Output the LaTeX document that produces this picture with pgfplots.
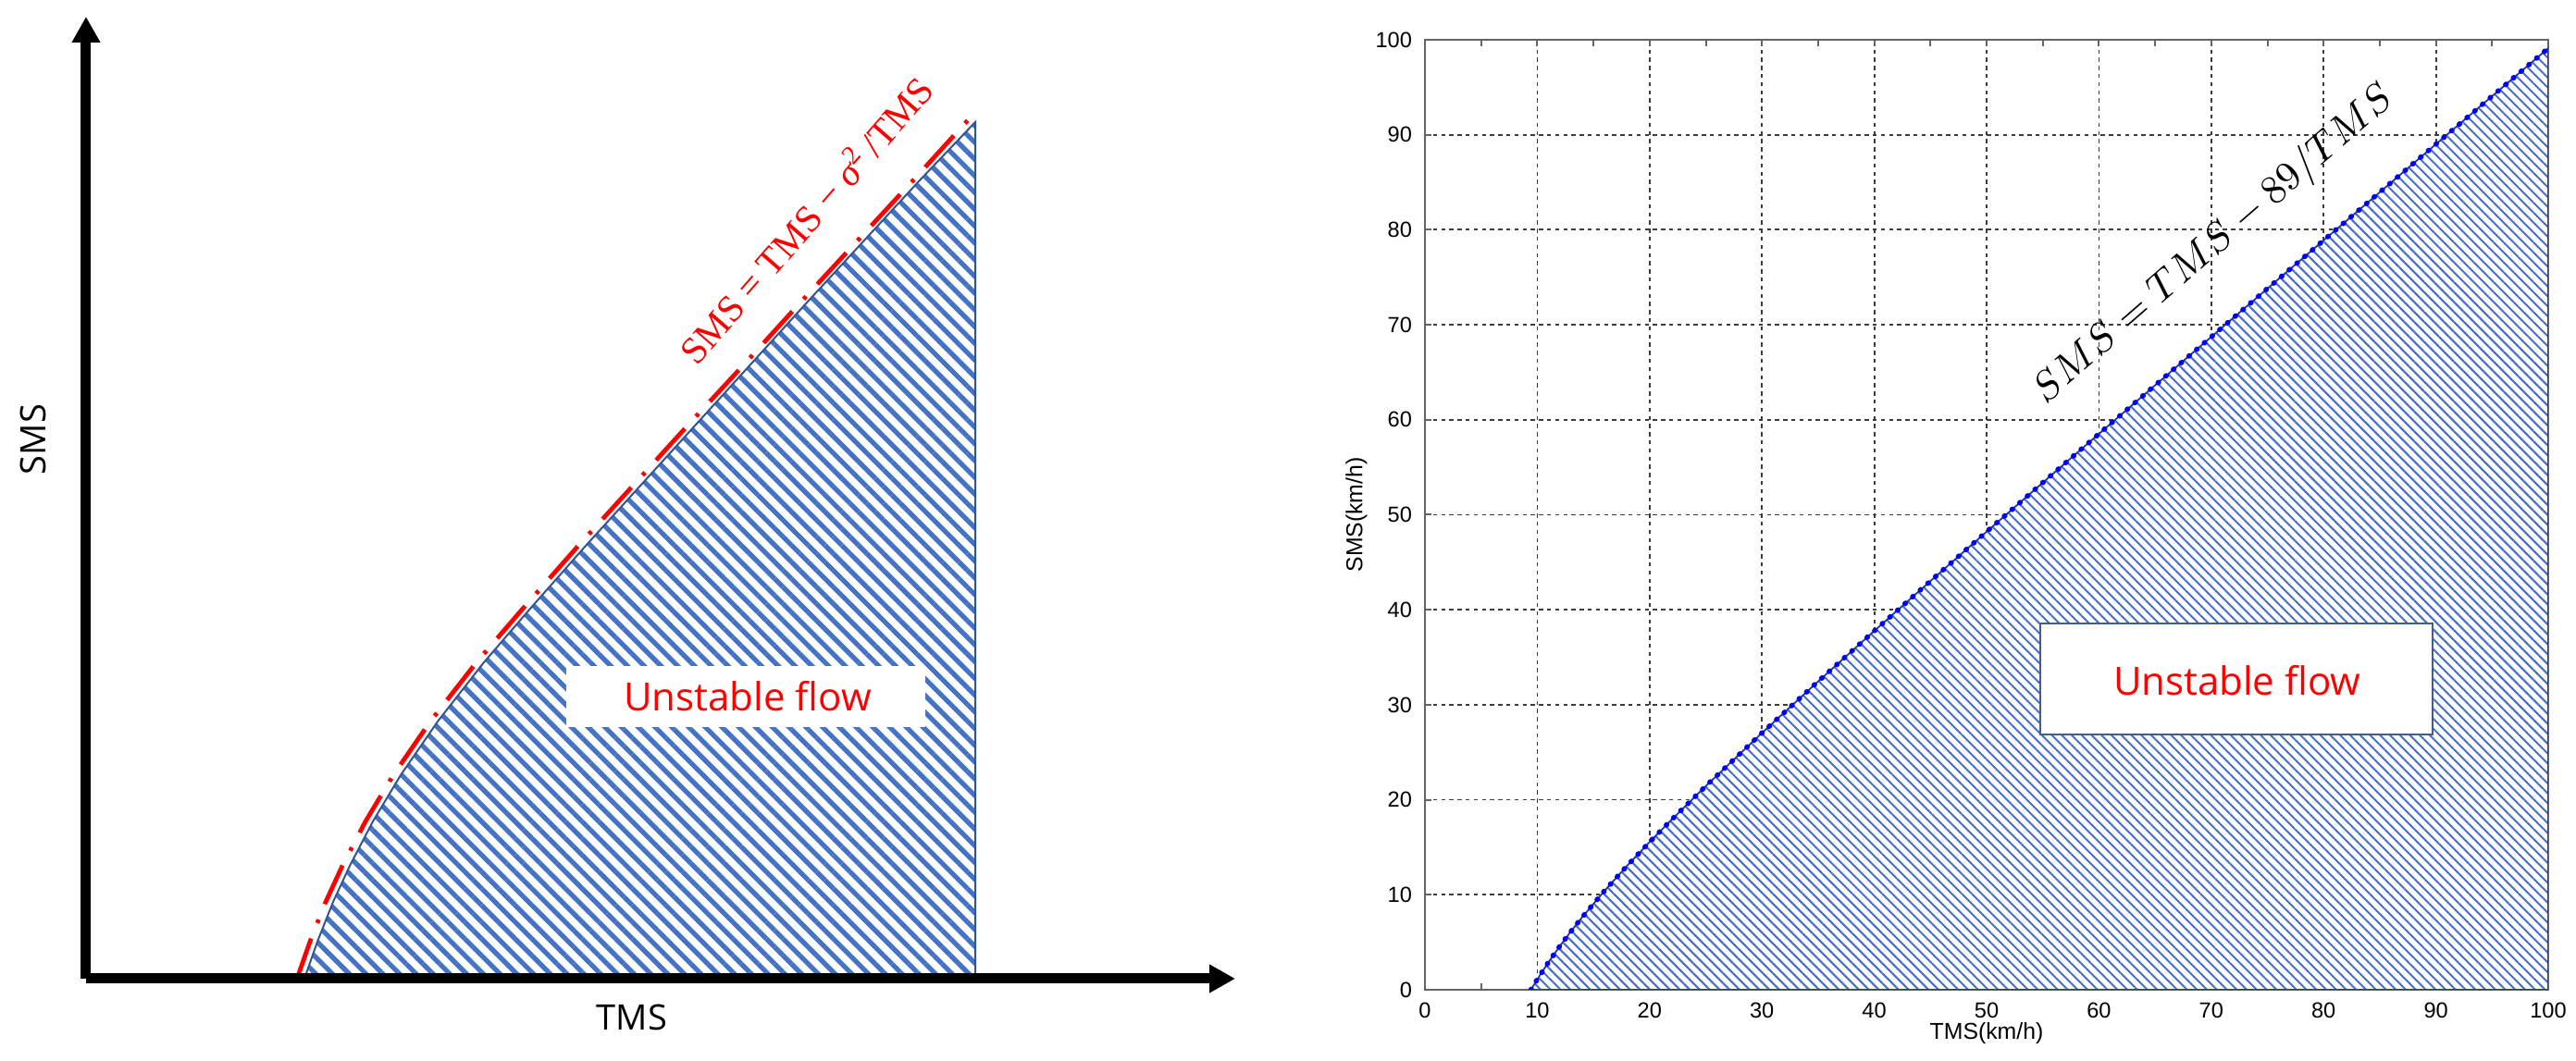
\documentclass[border=0pt]{standalone}
\usepackage{pgfplots}
\pgfplotsset{compat=1.18}
\usepackage{fontspec}
\setmainfont{Liberation Sans}
\newfontfamily\opensans{Open Sans}
\newfontfamily\libserif{Liberation Serif}
\usetikzlibrary{arrows.meta,patterns.meta}
\definecolor{hatchL}{RGB}{68,114,196}
\definecolor{edgeL}{RGB}{47,85,151}
\definecolor{hatchR}{RGB}{70,110,200}
\definecolor{edgeR}{RGB}{35,60,140}
\definecolor{boxR}{RGB}{65,95,140}
\definecolor{gridc}{RGB}{60,60,60}
\definecolor{axc}{RGB}{100,100,100}
\begin{document}
\begin{tikzpicture}
\path[use as bounding box] (0,0) rectangle (696pt,286.5pt);
% ---------------- left schematic ----------------
\begin{axis}[
  at={(23.25pt,22pt)}, anchor=south west,
  scale only axis, width=310.5pt, height=260pt,
  xmin=0, xmax=1242, ymin=0, ymax=1040,
  axis lines=left,
  axis line style={line width=2.75pt, -{Triangle[length=7pt,width=7.25pt]}},
  xtick=\empty, ytick=\empty,
  clip=false, axis on top,
]
\addplot[draw=edgeL, line width=0.5pt,
  pattern={Lines[angle=-45,distance=3.2pt,line width=1.3pt]}, pattern color=hatchL]
  coordinates {(236,0) (250,40) (267,83) (285,122) (310,170) (340,220) (380,278)
  (430,342) (480,400) (540,468) (600,534) (660,600) (720,666) (780,732) (840,797)
  (900,862) (961,926)} \closedcycle;
\addplot[red, line width=1.2pt, dash pattern=on 11.5pt off 4.5pt on 1pt off 4.5pt]
  coordinates {(228,0) (242,40) (259,83) (277,122) (302,170) (332,220) (372,278)
  (422,342) (472,400) (532,468) (592,534) (652,600) (713,666) (773,732) (833,797)
  (893,862) (953,928)};
\node[fill=white, minimum width=97pt, minimum height=16.5pt, inner sep=0pt] at (axis cs:713,305) {};
\node[text=red, font=\opensans\fontsize{10.5}{12}\selectfont] at (axis cs:715,305) {Unstable flow};
\node[rotate=49, text=red, font=\libserif\fontsize{10.3}{12}\selectfont] at (axis cs:777,821)
  {SMS = TMS − {\itshape σ}\textsuperscript{2}\,/TMS};
\node[rotate=90, font=\opensans\fontsize{9.5}{11}\selectfont] at (axis cs:-57,583) {SMS};
\node[font=\opensans\fontsize{9.5}{11}\selectfont] at (axis cs:590,-42) {TMS};
\end{axis}
% ---------------- right plot ----------------
\begin{axis}[
  at={(385pt,19pt)}, anchor=south west,
  scale only axis, width=303.5pt, height=256.75pt,
  xmin=0, xmax=100, ymin=0, ymax=100,
  xtick={0,10,...,100}, ytick={0,10,...,100},
  minor xtick={5,15,...,95},
  tick align=inside, major tick length=1.7pt, minor tick length=1.7pt,
  grid=major,
  major grid style={gridc, line width=0.45pt, dash pattern=on 1.1pt off 1.1pt},
  axis line style={axc, line width=0.55pt},
  every tick/.style={axc, line width=0.5pt},
  tick label style={font=\fontsize{5.9}{6.5}\selectfont},
  /pgf/number format/assume math mode=true,
  xlabel={TMS(km/h)}, ylabel={SMS(km/h)},
  label style={font=\fontsize{6.2}{7}\selectfont},
  xlabel style={at={(axis description cs:0.5,-0.046)}, anchor=center},
  ylabel style={at={(axis description cs:-0.061,0.5)}, anchor=center},
]
\addplot[fill=white, draw=none]
  coordinates {(9.434,0) (10,1.1) (11,2.909) (12,4.583) (13,6.154) (14,7.643) (16,10.438)
  (18,13.056) (20,15.55) (22,17.955) (25,21.44) (30,27.033) (35,32.457) (40,37.775)
  (45,43.022) (50,48.22) (55,53.382) (60,58.517) (65,63.631) (70,68.729) (75,73.813)
  (80,78.888) (85,83.953) (90,89.011) (95,94.063) (100,99.11)} \closedcycle;
\addplot[draw=edgeR, line width=0.45pt,
  pattern={Lines[angle=-45,distance=1.9pt,line width=0.5pt]}, pattern color=hatchR]
  coordinates {(9.434,0) (10,1.1) (11,2.909) (12,4.583) (13,6.154) (14,7.643) (16,10.438)
  (18,13.056) (20,15.55) (22,17.955) (25,21.44) (30,27.033) (35,32.457) (40,37.775)
  (45,43.022) (50,48.22) (55,53.382) (60,58.517) (65,63.631) (70,68.729) (75,73.813)
  (80,78.888) (85,83.953) (90,89.011) (95,94.063) (100,99.11)} \closedcycle;
\addplot[blue, line width=1.4pt, dash pattern=on 0.2pt off 2.55pt, line cap=round]
  coordinates {(9.434,0) (10,1.1) (11,2.909) (12,4.583) (13,6.154) (14,7.643) (16,10.438)
  (18,13.056) (20,15.55) (22,17.955) (25,21.44) (30,27.033) (35,32.457) (40,37.775)
  (45,43.022) (50,48.22) (55,53.382) (60,58.517) (65,63.631) (70,68.729) (75,73.813)
  (80,78.888) (85,83.953) (90,89.011) (95,94.063) (100,99.11)};
\draw[boxR, fill=white, line width=0.5pt] (axis cs:54.8,26.9) rectangle (axis cs:89.7,38.6);
\node[text=red, font=\opensans\fontsize{10.5}{12}\selectfont] at (axis cs:72.3,32.6) {Unstable flow};
\node[rotate=41, font=\fontsize{10.5}{12}\selectfont] at (axis cs:70.3,78.4) {$SMS = TMS - 89/TMS$};
\end{axis}
\end{tikzpicture}
\end{document}
